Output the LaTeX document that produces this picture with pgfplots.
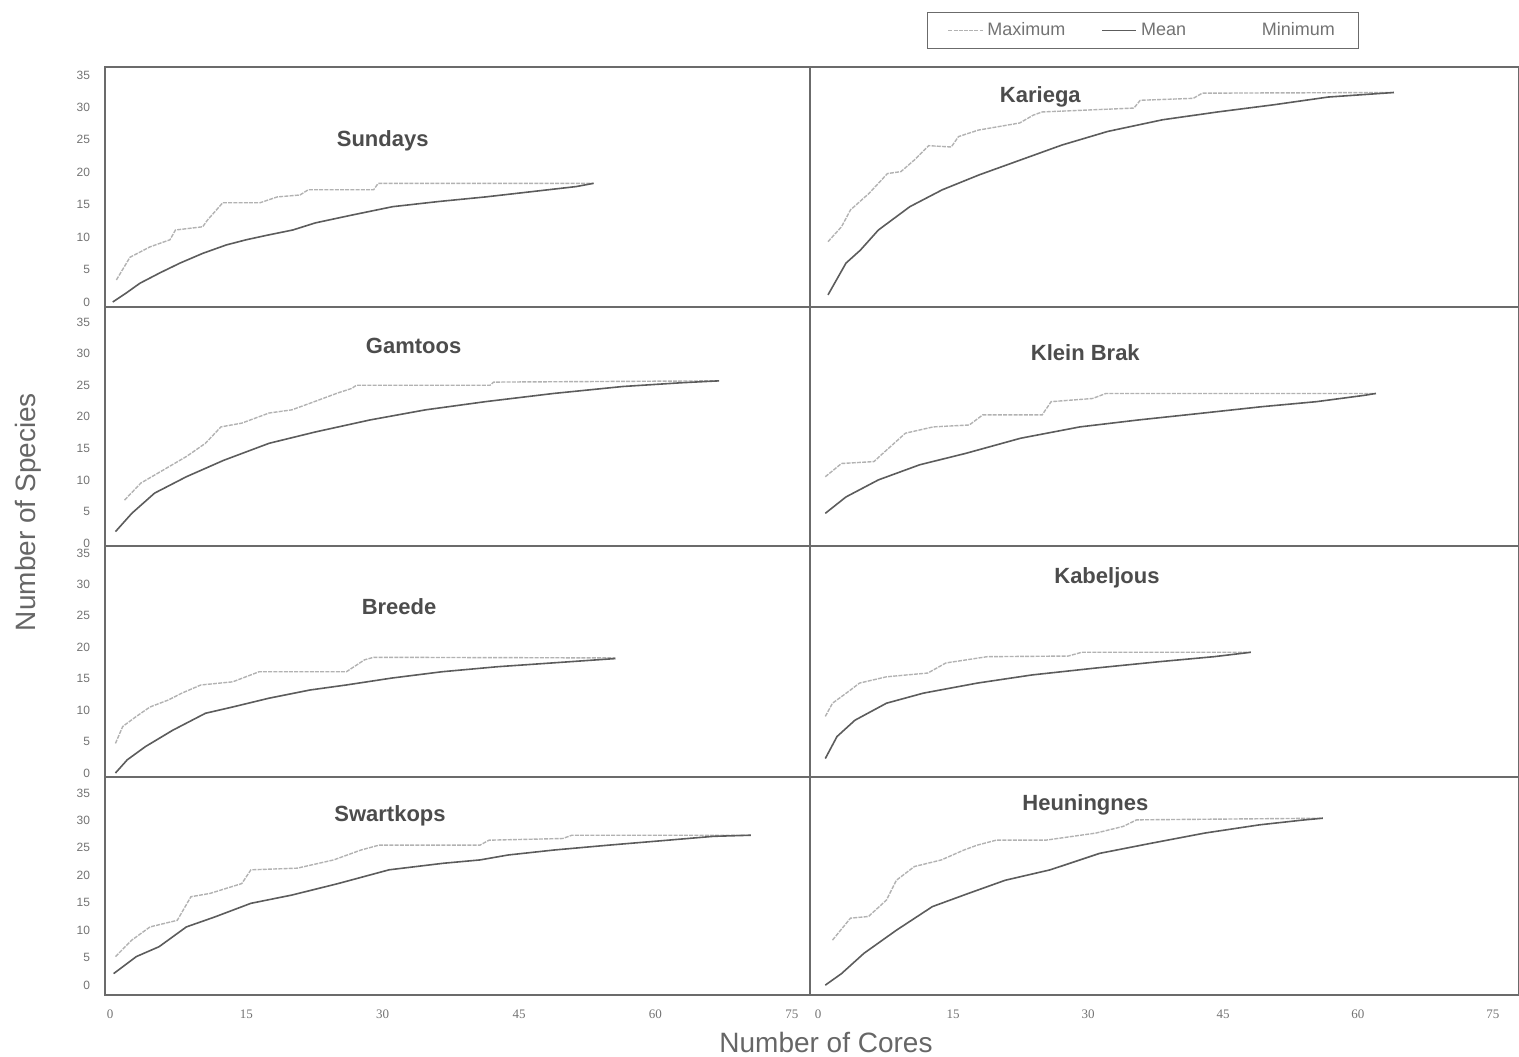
\documentclass[border=0pt]{standalone}
\usepackage{pgfplots}
\pgfplotsset{compat=1.18}
\usepackage{fontspec}
\setmainfont{Liberation Sans}
\newfontfamily\serifnum{Liberation Serif}
\definecolor{axcol}{gray}{0.42}
\definecolor{meancol}{gray}{0.36}
\definecolor{maxcol}{gray}{0.70}
\definecolor{titlecol}{gray}{0.3}
\tikzset{
  maxline/.style={draw=maxcol, line width=0.7pt, dash pattern=on 2pt off 0.6pt},
  meanline/.style={draw=meancol, line width=0.8pt},
  ttl/.style={font=\bfseries\fontsize{11}{13}\selectfont, text=titlecol},
}
\pgfplotsset{
  panel/.style={
    scale only axis,
    axis line style={draw=axcol, line width=0.7pt},
    tick style={draw=none},
    xtick={0,15,30,45,60,75},
    ytick={0,5,10,15,20,25,30,35},
    /pgf/number format/assume math mode=true,
    yticklabel style={font=\fontsize{6}{7}\selectfont, text=black!55, xshift=-4pt},
    xticklabel style={font=\serifnum\fontsize{6.5}{7}\selectfont, text=black!55, yshift=-4pt},
    xticklabels={},
  },
  leftcol/.style={panel, width=352.5pt, xmin=-0.55, xmax=77.0},
  rightcol/.style={panel, width=354.5pt, xmin=-0.9, xmax=77.9, yticklabels={}},
  row1/.style={height=120pt, ymin=-0.77, ymax=36.23},
  row2/.style={height=119.5pt, ymin=-0.48, ymax=37.4},
  row3/.style={height=115.5pt, ymin=-0.64, ymax=36.1},
  row4/.style={height=109pt, ymin=-1.8, ymax=37.9, xticklabels={0,15,30,45,60,75}},
}
\begin{document}
\begin{tikzpicture}
\path[use as bounding box] (0,0) rectangle (759.5pt,-528pt);

% ---------- Sundays ----------
\begin{axis}[leftcol, row1, at={(52.5pt,-33.5pt)}, anchor=north west]
\addplot[maxline, no marks] coordinates {(0.7,3.4)(2.2,6.9)(3.3,7.7)(4.4,8.5)(6.6,9.6)(7.2,11.1)(10.2,11.6)(10.7,12.6)(12.4,15.3)(16.5,15.3)(18.4,16.2)(20.9,16.5)(21.8,17.3)(29.0,17.3)(29.5,18.3)(53.2,18.3)};
\addplot[meanline, no marks] coordinates {(0.3,0)(1.8,1.4)(3.3,2.9)(5.5,4.5)(7.7,6.0)(10.2,7.5)(12.8,8.8)(15,9.6)(17.3,10.3)(20.1,11.1)(22.6,12.2)(26.6,13.4)(31.1,14.7)(36.2,15.5)(41.3,16.2)(46.3,17.0)(51.3,17.8)(53.2,18.3)};
\node[ttl] at (axis cs:30.0,24.8) {Sundays};
\end{axis}

% ---------- Gamtoos ----------
\begin{axis}[leftcol, row2, at={(52.5pt,-153.5pt)}, anchor=north west]
\addplot[maxline, no marks] coordinates {(1.6,6.8)(3.4,9.5)(5.9,11.6)(8.4,13.7)(10.5,15.8)(12.2,18.4)(14.5,19.0)(17.5,20.6)(20,21.1)(22.1,22.2)(25.1,23.8)(26.6,24.5)(27.1,25.0)(41.8,25.0)(42.2,25.5)(67.0,25.7)};
\addplot[meanline, no marks] coordinates {(0.6,1.8)(2.4,4.7)(4.9,7.9)(8.4,10.5)(12.5,13.1)(17.5,15.8)(22.6,17.6)(28.6,19.5)(34.7,21.1)(41.3,22.4)(48.8,23.7)(56.4,24.8)(62.9,25.4)(67.0,25.7)};
\node[ttl] at (axis cs:33.4,31.2) {Gamtoos};
\end{axis}

% ---------- Breede ----------
\begin{axis}[leftcol, row3, at={(52.5pt,-273pt)}, anchor=north west]
\addplot[maxline, no marks] coordinates {(0.6,4.7)(1.4,7.4)(2.9,9.0)(4.4,10.5)(6.4,11.6)(7.9,12.7)(10,14.0)(13.5,14.5)(16.4,16.1)(26,16.1)(28,18.0)(29,18.4)(55.6,18.3)};
\addplot[meanline, no marks] coordinates {(0.6,0)(1.9,2.1)(3.9,4.2)(6.9,6.8)(10.5,9.5)(13.5,10.5)(17.5,11.9)(22,13.2)(26,14.0)(31,15.1)(36.5,16.1)(42.6,16.9)(48.6,17.5)(55.6,18.2)};
\node[ttl] at (axis cs:31.8,26.4) {Breede};
\end{axis}

% ---------- Swartkops ----------
\begin{axis}[leftcol, row4, at={(52.5pt,-388.5pt)}, anchor=north west]
\addplot[maxline, no marks] coordinates {(0.6,5.2)(2.4,8.2)(4.4,10.6)(7.4,11.8)(8.9,16.1)(11,16.7)(14.5,18.5)(15.5,21.0)(20.6,21.3)(24.6,22.8)(27.6,24.6)(29.6,25.5)(40.7,25.5)(41.7,26.4)(49.8,26.7)(50.8,27.3)(70.5,27.3)};
\addplot[meanline, no marks] coordinates {(0.4,2.1)(2.9,5.2)(5.4,7.0)(8.4,10.6)(11.5,12.4)(15.5,14.9)(20,16.4)(25.1,18.5)(30.7,21.0)(36.7,22.2)(40.7,22.8)(43.8,23.7)(48.8,24.6)(54.9,25.5)(61.4,26.4)(66.4,27.1)(70.5,27.3)};
\node[ttl] at (axis cs:30.8,30.8) {Swartkops};
\end{axis}

% ---------- Kariega ----------
\begin{axis}[rightcol, row1, at={(405pt,-33.5pt)}, anchor=north west,
  legend columns=3,
  legend style={at={(0.47,1.152)}, anchor=center, draw=axcol, line width=0.6pt,
    font=\fontsize{9}{10}\selectfont, text=black!55, inner xsep=10pt, inner ysep=3pt,
    /tikz/every even column/.append style={column sep=16pt}},
  legend cell align=left]
\addplot[maxline, no marks] coordinates {(1.1,9.3)(2.6,11.6)(3.6,14.2)(5.7,16.8)(7.7,19.8)(9.2,20.1)(10.7,21.9)(12.3,24.1)(14.8,23.9)(15.6,25.5)(17.8,26.5)(22.4,27.6)(23.9,28.8)(24.9,29.3)(35.1,29.9)(35.8,31.1)(41.7,31.4)(42.7,32.2)(64.0,32.3)};
\addlegendentry{Maximum}
\addplot[meanline, no marks] coordinates {(1.1,1.1)(3.1,6.0)(4.7,8.0)(6.7,11.1)(10.2,14.7)(13.8,17.3)(17.9,19.6)(22.5,21.9)(27.1,24.2)(32.2,26.3)(38.3,28.1)(44.4,29.3)(50.6,30.4)(56.7,31.6)(64.0,32.3)};
\addlegendentry{Mean}
\addlegendimage{draw=white, line width=0.8pt}
\addlegendentry{Minimum}
\node[ttl] at (axis cs:24.7,31.6) {Kariega};
\end{axis}

% ---------- Klein Brak ----------
\begin{axis}[rightcol, row2, at={(405pt,-153.5pt)}, anchor=north west]
\addplot[maxline, no marks] coordinates {(0.8,10.5)(2.6,12.6)(6.2,12.9)(7.2,14.2)(9.7,17.4)(12.8,18.4)(16.8,18.7)(18.3,20.3)(24.9,20.3)(25.9,22.4)(30.5,22.9)(32,23.7)(62,23.7)};
\addplot[meanline, no marks] coordinates {(0.8,4.7)(3.1,7.3)(6.7,10.0)(11.3,12.4)(16.4,14.2)(22.5,16.6)(29.1,18.4)(35.6,19.5)(42.2,20.5)(49.3,21.6)(55.4,22.4)(60.7,23.4)(62,23.7)};
\node[ttl] at (axis cs:29.7,30.2) {Klein Brak};
\end{axis}

% ---------- Kabeljous ----------
\begin{axis}[rightcol, row3, at={(405pt,-273pt)}, anchor=north west]
\addplot[maxline, no marks] coordinates {(0.8,9.0)(1.6,11.1)(3.6,13.2)(4.6,14.3)(7.6,15.3)(12.2,15.9)(14.2,17.5)(18.8,18.5)(27.8,18.6)(29.3,19.2)(48.1,19.2)};
\addplot[meanline, no marks] coordinates {(0.8,2.3)(2.1,5.8)(4.1,8.4)(7.6,11.1)(11.7,12.7)(17.7,14.3)(23.8,15.6)(30.9,16.7)(37.9,17.7)(44,18.5)(48.1,19.2)};
\node[ttl] at (axis cs:32.1,31.0) {Kabeljous};
\end{axis}

% ---------- Heuningnes ----------
\begin{axis}[rightcol, row4, at={(405pt,-388.5pt)}, anchor=north west]
\addplot[maxline, no marks] coordinates {(1.6,8.2)(3.6,12.2)(5.6,12.5)(7.6,15.5)(8.7,19.1)(10.7,21.6)(13.7,22.8)(16.2,24.6)(17.7,25.5)(19.8,26.4)(25.3,26.4)(30.9,27.7)(33.9,28.9)(35.4,30.1)(56.1,30.4)};
\addplot[meanline, no marks] coordinates {(0.8,0)(2.6,2.1)(5.1,5.8)(8.7,10.0)(12.7,14.3)(16.7,16.7)(20.8,19.1)(25.8,21.0)(31.3,24.0)(36.9,25.8)(43,27.7)(49.1,29.2)(54.1,30.1)(56.1,30.4)};
\node[ttl] at (axis cs:29.7,32.8) {Heuningnes};
\end{axis}

\node[font=\fontsize{14}{16}\selectfont, text=black!60] at (413pt,-521pt) {Number of Cores};
\node[font=\fontsize{14}{16}\selectfont, text=black!60, rotate=90] at (14pt,-256pt) {Number of Species};
\end{tikzpicture}
\end{document}
